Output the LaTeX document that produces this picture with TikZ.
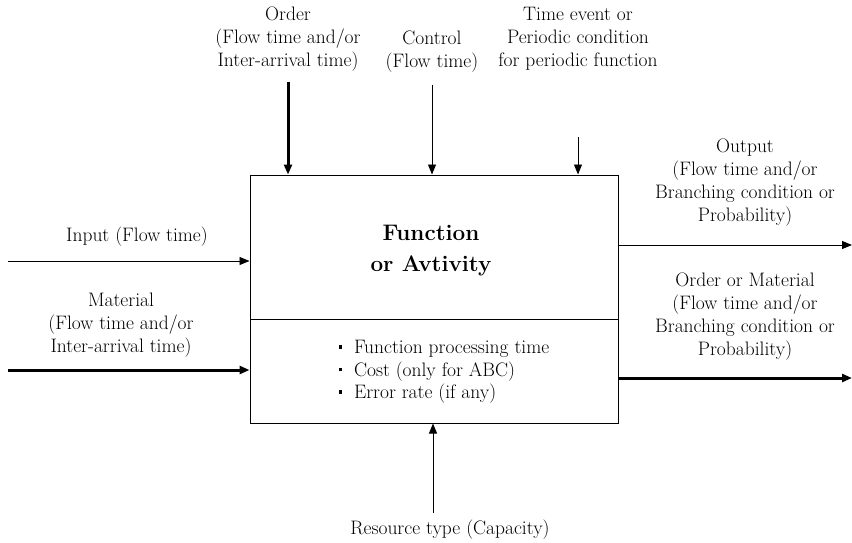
\documentclass[tikz,border=0pt]{standalone}
\usetikzlibrary{arrows.meta}
\usetikzlibrary{calc}

\begin{document}
\begin{tikzpicture}[x=1pt,y=-1pt,
		lbl/.style={align=center,inner sep=0pt,font=\fontsize{19.5}{23}\selectfont},
		flow/.style={-{Triangle[length=10pt,width=8pt]},line width=0.9pt},
		heavy/.style={-{Triangle[length=10pt,width=8pt]},line width=3pt}]
		\def\sq{\raisebox{0.25em}{\rule{3.5pt}{3.5pt}}\ \ }
		\useasboundingbox (0,0) rectangle (852,543);
		\node [draw,line width=1pt,inner sep=0pt,minimum width=368pt,minimum height=248pt] (func) at (434,299) {};
		\coordinate (divl) at (250,319);
		\coordinate (divr) at (618,319);
		\draw [line width=0.9pt] (divl) -- (divr);
		\node [font=\bfseries\fontsize{22.5}{31}\selectfont,align=center] (title) at (431,251) {Function\\or Avtivity};
		\node [lbl,align=left,font=\fontsize{19.5}{22.5}\selectfont] (attrs) at (444,372) {\sq Function processing time\\\sq Cost (only for ABC)\\\sq Error rate (if any)};
		\node [lbl] (ordlbl) at (288,39) {Order\\(Flow time and/or\\Inter-arrival time)};
		\node [lbl] (ctllbl) at (432,52) {Control\\(Flow time)};
		\node [lbl] (timlbl) at (578,39) {Time event or\\Periodic condition\\for periodic function};
		\node [lbl] (inlbl) at (137,237) {Input (Flow time)};
		\node [lbl] (matlbl) at (121,325) {Material\\(Flow time and/or\\Inter-arrival time)};
		\node [lbl] (outlbl) at (745,183) {Output\\(Flow time and/or\\Branching condition or\\Probability)};
		\node [lbl] (omlbl) at (745,317) {Order or Material\\(Flow time and/or\\Branching condition or\\Probability)};
		\node [lbl] (reslbl) at (450,530) {Resource type (Capacity)};
		\coordinate (ordtail) at (288,82);
		\coordinate (ctltail) at (432,85);
		\coordinate (timtail) at (578,137);
		\coordinate (intail) at (8,261);
		\coordinate (mattail) at (8,370);
		\coordinate (outhead) at (852,245);
		\coordinate (omhead) at (852,378);
		\coordinate (restail) at (433,513);
		\draw [heavy] (ordtail) -- (ordtail |- func.north);
		\draw [flow] (ctltail) -- (ctltail |- func.north);
		\draw [flow] (timtail) -- (timtail |- func.north);
		\draw [flow] (intail) -- (intail -| func.west);
		\draw [heavy] (mattail) -- (mattail -| func.west);
		\draw [flow] (outhead -| func.east) -- (outhead);
		\draw [heavy] (omhead -| func.east) -- (omhead);
		\draw [flow] (restail) -- (restail |- func.south);
	\end{tikzpicture}
\end{document}
